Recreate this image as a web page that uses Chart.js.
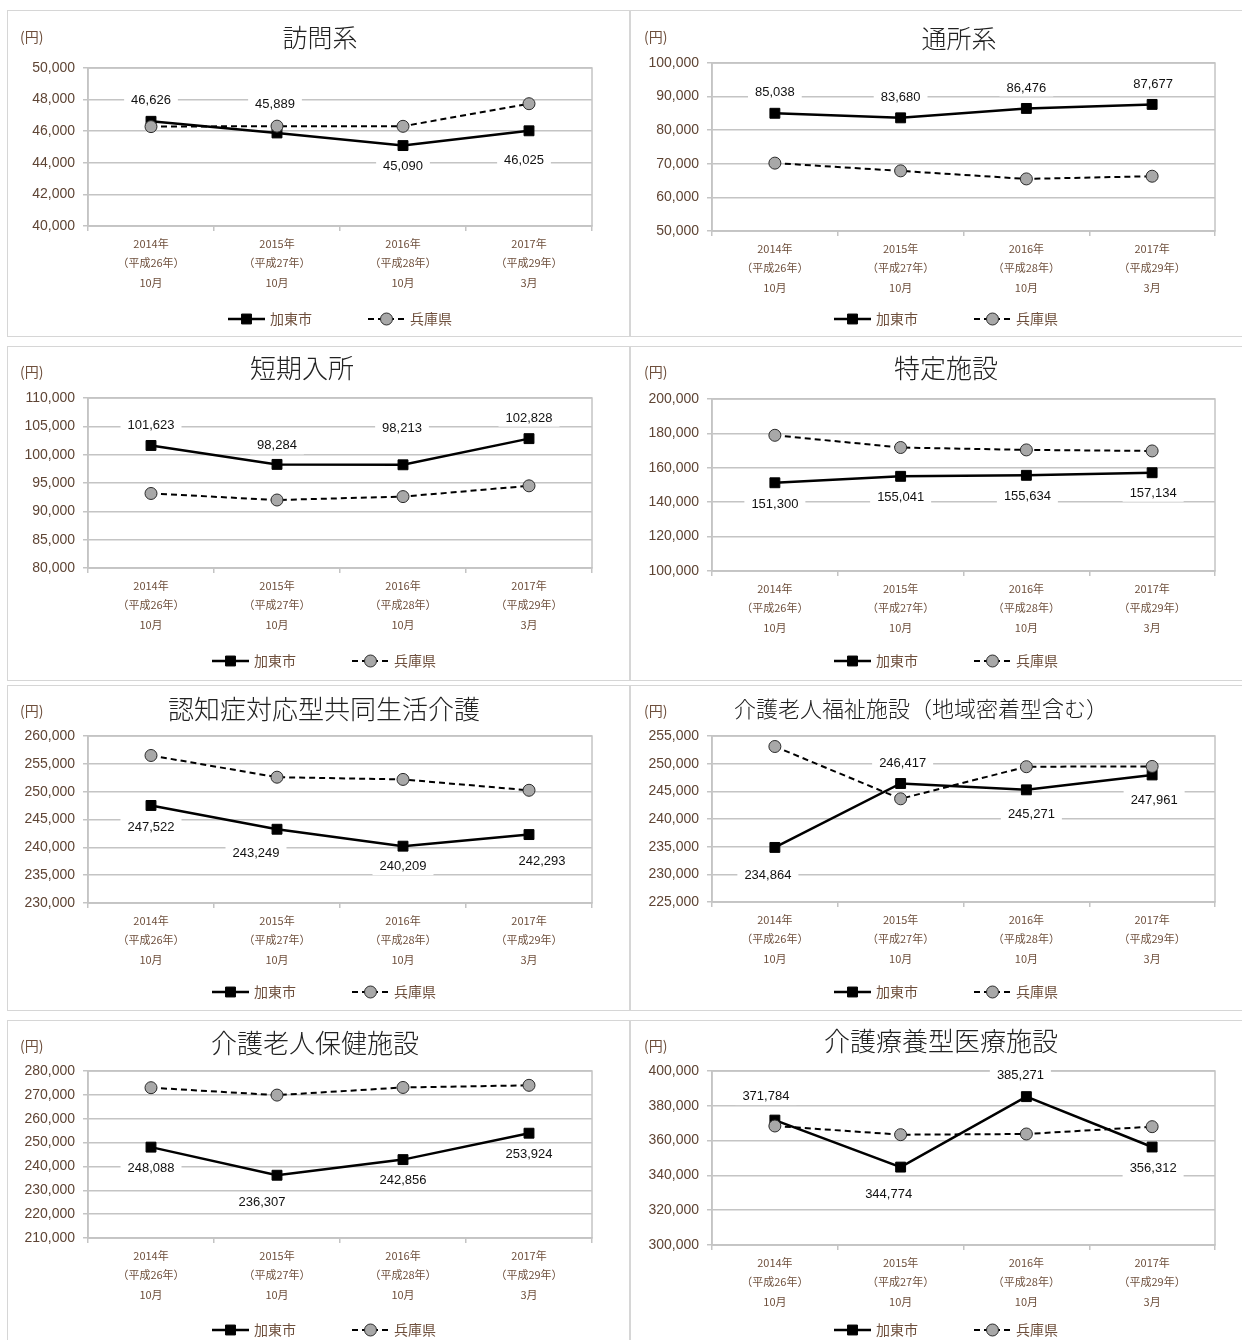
<!DOCTYPE html>
<html lang="ja">
<head>
<meta charset="utf-8">
<title>介護サービス 1人当たり給付月額</title>
<script src="https://cdn.jsdelivr.net/npm/chart.js@4.4.1/dist/chart.umd.min.js"></script>
<style>
  html, body { margin: 0; padding: 0; background: #fff; }
  body { width: 1242px; height: 1340px; position: relative; overflow: hidden; }
  .frame { position: absolute; border: 1px solid #d6d6d6; box-sizing: border-box; }
  canvas { position: absolute; }
</style>
</head>
<body>
<script>
// ---- data ----
const categories = [
  ['2014年', '（平成26年）', '10月'],
  ['2015年', '（平成27年）', '10月'],
  ['2016年', '（平成28年）', '10月'],
  ['2017年', '（平成29年）', '3月']
];
const seriesNames = ['加東市', '兵庫県'];
const unitLabel = '(円)';
const titles = [
  '訪問系', '通所系', '短期入所', '特定施設',
  '認知症対応型共同生活介護', '介護老人福祉施設（地域密着型含む）',
  '介護老人保健施設', '介護療養型医療施設'
];

const katoHomon    = [46626, 45889, 45090, 46025];
const hyogoHomon   = [46290, 46320, 46310, 47740];
const katoTsusho   = [85038, 83680, 86476, 87677];
const hyogoTsusho  = [70200, 67900, 65500, 66300];
const katoTanki    = [101623, 98284, 98213, 102828];
const hyogoTanki   = [93150, 92000, 92600, 94500];
const katoTokutei  = [151300, 155041, 155634, 157134];
const hyogoTokutei = [178900, 171800, 170400, 169800];
const katoNinchi   = [247522, 243249, 240209, 242293];
const hyogoNinchi  = [256500, 252600, 252200, 250250];
const katoFukushi  = [234864, 246417, 245271, 247961];
const hyogoFukushi = [253100, 243650, 249450, 249500];
const katoHoken    = [248088, 236307, 242856, 253924];
const hyogoHoken   = [273000, 269900, 273100, 274000];
const katoRyoyo    = [371784, 344774, 385271, 356312];
const hyogoRyoyo   = [368400, 363400, 363800, 368000];

const katoSeries  = [katoHomon, katoTsusho, katoTanki, katoTokutei, katoNinchi, katoFukushi, katoHoken, katoRyoyo];
const hyogoSeries = [hyogoHomon, hyogoTsusho, hyogoTanki, hyogoTokutei, hyogoNinchi, hyogoFukushi, hyogoHoken, hyogoRyoyo];

// y-axis tick ranges
const yMins  = [40000, 50000, 80000, 100000, 230000, 225000, 210000, 300000];
const yMaxs  = [50000, 100000, 110000, 200000, 260000, 255000, 280000, 400000];
const ySteps = [2000, 10000, 5000, 20000, 5000, 5000, 10000, 20000];

// ---- layout (page pixels) ----
const panelBoxes = [
  { x: 7,   y: 10,   w: 623, h: 327 }, { x: 630, y: 10,   w: 616, h: 327 },
  { x: 7,   y: 346,  w: 623, h: 335 }, { x: 630, y: 346,  w: 616, h: 335 },
  { x: 7,   y: 685,  w: 623, h: 326 }, { x: 630, y: 685,  w: 616, h: 326 },
  { x: 7,   y: 1020, w: 623, h: 330 }, { x: 630, y: 1020, w: 616, h: 330 }
];
const plotAreas = [
  { l: 88,  r: 592,  t: 68,   b: 226 },  { l: 712, r: 1215, t: 63,   b: 231 },
  { l: 88,  r: 592,  t: 398,  b: 568 },  { l: 712, r: 1215, t: 399,  b: 571 },
  { l: 88,  r: 592,  t: 736,  b: 903 },  { l: 712, r: 1215, t: 736,  b: 902 },
  { l: 88,  r: 592,  t: 1071, b: 1238 }, { l: 712, r: 1215, t: 1071, b: 1245 }
];
// title centre, unit label and legend start, relative to each panel
const decorLayout = [
  { tx: 313, ty: 27, ts: 25, ux: 13, uy: 27, lx: 221, ly: 309 },
  { tx: 329, ty: 28, ts: 25, ux: 14, uy: 27, lx: 204, ly: 309 },
  { tx: 295, ty: 22, ts: 26, ux: 13, uy: 26, lx: 205, ly: 315 },
  { tx: 316, ty: 22, ts: 26, ux: 14, uy: 26, lx: 204, ly: 315 },
  { tx: 317, ty: 24, ts: 26, ux: 13, uy: 26, lx: 205, ly: 307 },
  { tx: 291, ty: 24, ts: 22, ux: 14, uy: 26, lx: 204, ly: 307 },
  { tx: 308, ty: 23, ts: 26, ux: 13, uy: 26, lx: 205, ly: 310 },
  { tx: 311, ty: 21, ts: 26, ux: 14, uy: 26, lx: 204, ly: 310 }
];
// value label offsets from each 加東市 point
const labelOffsets = [
  [[0, -21], [-2, -29], [0, 20], [-5, 29]],
  [[0, -21], [0, -21], [0, -21], [1, -20]],
  [[0, -21], [0, -19], [-1, -37], [0, -21]],
  [[0, 21], [0, 21], [1, 21], [1, 20]],
  [[0, 21], [-21, 24], [0, 20], [13, 26]],
  [[-7, 28], [2, -21], [5, 24], [2, 25]],
  [[0, 21], [-15, 27], [0, 20], [0, 21]],
  [[-9, -24], [-12, 27], [-6, -22], [1, 21]]
];

const FONT_JP = '"Noto Sans CJK JP", "Noto Sans", sans-serif';
const FONT_NUM = '"Liberation Sans", Arial, sans-serif';
const GRID = '#c4c4c4';
const BROWN = '#5e4434';
const LIGHT_BROWN = '#6e4f3c';
const Y_W = 70, X_H = 70;

function drawMarker(ctx, ds, x, y) {
  ctx.save();
  ctx.setLineDash([]);
  ctx.fillStyle = ds.pointBackgroundColor;
  ctx.strokeStyle = ds.pointBorderColor;
  ctx.lineWidth = ds.pointBorderWidth;
  ctx.beginPath();
  if (ds.pointStyle === 'rect') {
    const s = ds.pointRadius * Math.SQRT1_2;
    ctx.rect(x - s, y - s, 2 * s, 2 * s);
  } else {
    ctx.arc(x, y, ds.pointRadius, 0, Math.PI * 2);
  }
  ctx.fill();
  ctx.stroke();
  ctx.restore();
}

const panelDecor = {
  id: 'panelDecor',
  beforeDatasetsDraw(chart) {
    const { ctx, chartArea: a } = chart;
    ctx.save();
    ctx.strokeStyle = GRID;
    ctx.lineWidth = 1.5;
    ctx.strokeRect(a.left, a.top, a.right - a.left, a.bottom - a.top);
    ctx.restore();
  },
  afterDatasetsDraw(chart, args, opts) {
    const ctx = chart.ctx;
    const meta = chart.getDatasetMeta(0);
    const values = chart.data.datasets[0].data;
    ctx.save();
    ctx.font = '13px ' + FONT_NUM;
    ctx.textAlign = 'center';
    ctx.textBaseline = 'middle';
    meta.data.forEach((pt, i) => {
      const [dx, dy] = opts.offsets[i];
      const text = values[i].toLocaleString('en-US');
      const x = pt.x + dx, y = pt.y + dy;
      const w = ctx.measureText(text).width + 14;
      ctx.fillStyle = '#fff';
      ctx.fillRect(x - w / 2, y - 9, w, 18);
      ctx.fillStyle = '#111';
      ctx.fillText(text, x, y + 0.5);
    });
    ctx.restore();
  },
  afterDraw(chart, args, opts) {
    const ctx = chart.ctx;
    const d = opts.layout;
    ctx.save();
    // title
    ctx.fillStyle = '#222';
    ctx.font = '300 ' + d.ts + 'px ' + FONT_JP;
    ctx.textAlign = 'center';
    ctx.textBaseline = 'middle';
    ctx.fillText(opts.title, d.tx, d.ty);
    // unit
    ctx.fillStyle = LIGHT_BROWN;
    ctx.font = '14px ' + FONT_JP;
    ctx.textAlign = 'left';
    ctx.fillText(unitLabel, d.ux, d.uy);
    // legend
    chart.data.datasets.forEach((ds, i) => {
      const x0 = d.lx + i * 140, y = d.ly;
      ctx.save();
      ctx.strokeStyle = ds.borderColor;
      ctx.lineWidth = ds.borderWidth;
      ctx.setLineDash(ds.borderDash || []);
      ctx.beginPath();
      ctx.moveTo(x0, y);
      ctx.lineTo(x0 + 37, y);
      ctx.stroke();
      ctx.restore();
      drawMarker(ctx, ds, x0 + 18.5, y);
      ctx.fillStyle = LIGHT_BROWN;
      ctx.font = '14px ' + FONT_JP;
      ctx.textAlign = 'left';
      ctx.textBaseline = 'middle';
      ctx.fillText(ds.label, x0 + 42, y);
    });
    ctx.restore();
  }
};

function buildPanel(i) {
  const box = panelBoxes[i], plot = plotAreas[i];
  const frame = document.createElement('div');
  frame.className = 'frame';
  Object.assign(frame.style, { left: box.x + 'px', top: box.y + 'px', width: box.w + 'px', height: box.h + 'px' });
  document.body.appendChild(frame);

  const canvas = document.createElement('canvas');
  canvas.width = box.w;
  canvas.height = box.h;
  Object.assign(canvas.style, { left: box.x + 'px', top: box.y + 'px', width: box.w + 'px', height: box.h + 'px' });
  document.body.appendChild(canvas);

  const padding = {
    left: plot.l - box.x - Y_W,
    top: plot.t - box.y,
    right: box.x + box.w - plot.r,
    bottom: box.y + box.h - plot.b - X_H
  };

  new Chart(canvas, {
    type: 'line',
    data: {
      labels: categories,
      datasets: [
        {
          label: seriesNames[0], data: katoSeries[i], order: 1,
          borderColor: '#000', borderWidth: 2.5, tension: 0,
          pointStyle: 'rect', pointRadius: 7, pointHoverRadius: 7,
          pointBackgroundColor: '#000', pointBorderColor: '#000', pointBorderWidth: 1
        },
        {
          label: seriesNames[1], data: hyogoSeries[i], order: 0,
          borderColor: '#000', borderWidth: 2, borderDash: [6, 4], tension: 0,
          pointStyle: 'circle', pointRadius: 6, pointHoverRadius: 6,
          pointBackgroundColor: '#a8a8a8', pointBorderColor: '#2a2a2a', pointBorderWidth: 1
        }
      ]
    },
    options: {
      responsive: false,
      animation: false,
      devicePixelRatio: 1,
      layout: { padding },
      plugins: {
        legend: { display: false },
        title: { display: false },
        tooltip: { enabled: false },
        panelDecor: { title: titles[i], layout: decorLayout[i], offsets: labelOffsets[i] }
      },
      scales: {
        x: {
          type: 'category',
          offset: true,
          grid: { offset: true, drawOnChartArea: false, drawTicks: true, tickLength: 5, color: GRID, lineWidth: 1.5 },
          border: { display: true, color: GRID, width: 1.5 },
          ticks: {
            color: LIGHT_BROWN, padding: 3, maxRotation: 0, autoSkip: false,
            font: { family: FONT_JP, size: 11, lineHeight: 1.77 }
          },
          afterFit(s) { s.height = X_H; }
        },
        y: {
          min: yMins[i], max: yMaxs[i],
          grid: { color: GRID, lineWidth: 1.5, tickLength: 5 },
          border: { display: true, color: GRID, width: 1.5 },
          ticks: {
            stepSize: ySteps[i], padding: 8, color: BROWN,
            font: { family: FONT_NUM, size: 14 },
            callback: v => v.toLocaleString('en-US')
          },
          afterFit(s) { s.width = Y_W; }
        }
      }
    },
    plugins: [panelDecor]
  });
}

for (let i = 0; i < titles.length; i++) buildPanel(i);
</script>
</body>
</html>
